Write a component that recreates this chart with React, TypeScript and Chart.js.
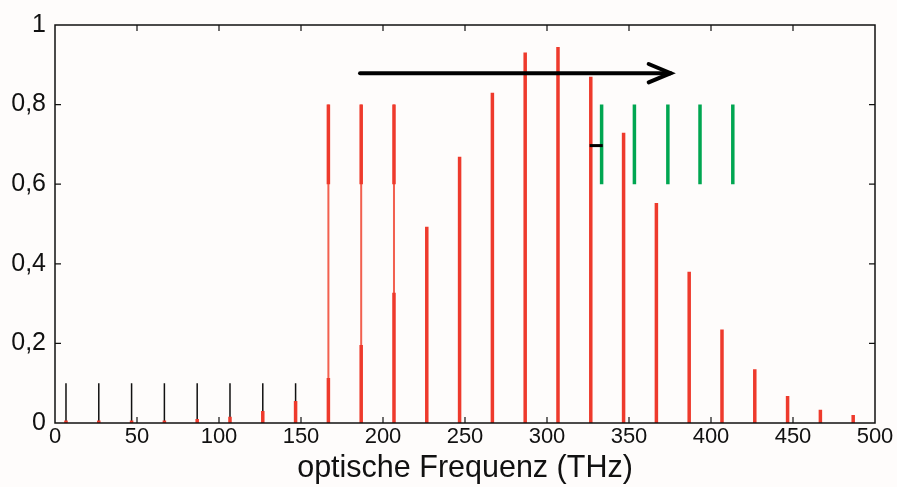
import React, { useEffect, useRef } from "react";
import { Chart, registerables } from "chart.js";

Chart.register(...registerables);

// comb line frequencies (THz)
const combFreqs = [6.7, 26.7, 46.7, 66.7, 86.7, 106.7, 126.7, 146.7, 166.7, 186.7, 206.7, 226.7, 246.7, 266.7, 286.7, 306.7, 326.7, 346.7, 366.7, 386.7, 406.7, 426.7, 446.7, 466.7, 486.7];
// red comb amplitudes
const redHeights = [0.006, 0.006, 0.006, 0.006, 0.01, 0.016, 0.03, 0.055, 0.113, 0.196, 0.327, 0.493, 0.669, 0.83, 0.931, 0.945, 0.87, 0.729, 0.553, 0.38, 0.235, 0.135, 0.068, 0.033, 0.02];
// black seed comb (low frequencies)
const blackFreqs = [6.7, 26.7, 46.7, 66.7, 86.7, 106.7, 126.7, 146.7];
const blackHeights = [0.1, 0.1, 0.1, 0.1, 0.1, 0.1, 0.1, 0.1];
// thin red lines up to 0.8 with thick top segments
const pumpFreqs = [166.7, 186.7, 206.7];
const pumpTop = [0.8, 0.8, 0.8];
const pumpSegLow = [0.6, 0.6, 0.6];
// green lines
const greenFreqs = [333.3, 353.3, 373.7, 393.3, 413.3];
const greenLow = [0.6, 0.6, 0.6, 0.6, 0.6];
const greenHigh = [0.8, 0.8, 0.8, 0.8, 0.8];
// black short dash
const dashX = [326, 334];
const dashY = [0.697, 0.697];
// arrow
const arrowX = [186, 375.4];
const arrowY = [0.879, 0.879];
const arrowHeadX = [362, 375.4, 362];
const arrowHeadY = [0.902, 0.879, 0.856];

const xTicks = [0, 50, 100, 150, 200, 250, 300, 350, 400, 450, 500];
const yTicks = [0, 0.2, 0.4, 0.6, 0.8, 1];

function segs(xs: number[], lows: number[], highs: number[]) {
  const out: any[] = [];
  xs.forEach((x, i) => {
    out.push({ x, y: lows[i] });
    out.push({ x, y: highs[i] });
    out.push({ x, y: null });
  });
  return out;
}

const FONT = "'Liberation Sans', Arial, Helvetica, sans-serif";

export default function App() {
  const ref = useRef<HTMLCanvasElement>(null);
  useEffect(() => {
    document.body.style.margin = "0";
    const zeros = (n: number) => new Array(n).fill(0);
    const framePlugin = {
      id: "frame",
      beforeDraw(chart: any) {
        const ctx = chart.ctx;
        ctx.save();
        ctx.fillStyle = "#fefcfb";
        ctx.fillRect(0, 0, chart.width, chart.height);
        ctx.restore();
      },
      afterDraw(chart: any) {
        const { ctx, chartArea: a, scales } = chart;
        ctx.save();
        ctx.strokeStyle = "#111";
        ctx.lineWidth = 1.5;
        ctx.strokeRect(a.left, a.top, a.right - a.left, a.bottom - a.top);
        ctx.lineWidth = 1.2;
        const tl = 6;
        ctx.beginPath();
        xTicks.forEach((v) => {
          if (v === 0 || v === 500) return;
          const px = scales.x.getPixelForValue(v);
          ctx.moveTo(px, a.bottom);
          ctx.lineTo(px, a.bottom - tl);
          ctx.moveTo(px, a.top);
          ctx.lineTo(px, a.top + tl);
        });
        yTicks.forEach((v) => {
          if (v === 0 || v === 1) return;
          const py = scales.y.getPixelForValue(v);
          ctx.moveTo(a.left, py);
          ctx.lineTo(a.left + tl, py);
          ctx.moveTo(a.right, py);
          ctx.lineTo(a.right - tl, py);
        });
        ctx.stroke();
        ctx.restore();
      },
    };
    const base = { showLine: true, pointRadius: 0, spanGaps: false, fill: false, tension: 0, borderCapStyle: "butt" };
    const chart = new Chart(ref.current!, {
      type: "scatter",
      data: {
        datasets: [
          { ...base, data: arrowX.map((x, i) => ({ x, y: arrowY[i] })), borderColor: "#000", borderWidth: 4, borderCapStyle: "round" },
          { ...base, data: arrowHeadX.map((x, i) => ({ x, y: arrowHeadY[i] })), borderColor: "#000", borderWidth: 4, borderCapStyle: "round", borderJoinStyle: "miter" },
          { ...base, data: dashX.map((x, i) => ({ x, y: dashY[i] })), borderColor: "#000", borderWidth: 3 },
          { ...base, data: segs(greenFreqs, greenLow, greenHigh), borderColor: "#00a651", borderWidth: 3.5 },
          { ...base, data: segs(pumpFreqs, pumpSegLow, pumpTop), borderColor: "#ee3a2c", borderWidth: 3.5 },
          { ...base, data: segs(combFreqs, zeros(combFreqs.length), redHeights), borderColor: "#ee3a2c", borderWidth: 3.5 },
          { ...base, data: segs(pumpFreqs, zeros(pumpFreqs.length), pumpTop), borderColor: "#f2604f", borderWidth: 2 },
          { ...base, data: segs(blackFreqs, zeros(blackFreqs.length), blackHeights), borderColor: "#111", borderWidth: 1.5 },
        ] as any,
      },
      options: {
        animation: false,
        responsive: false,
        events: [],
        layout: { padding: { top: 25, right: 22, left: 0, bottom: 0 } },
        plugins: { legend: { display: false }, tooltip: { enabled: false } },
        scales: {
          x: {
            type: "linear",
            min: 0,
            max: 500,
            afterBuildTicks: (s: any) => { s.ticks = xTicks.map((v) => ({ value: v })); },
            afterFit: (s: any) => { s.height = 64; },
            grid: { display: false, drawTicks: false },
            border: { display: false },
            ticks: { color: "#111", padding: 1, maxRotation: 0, autoSkip: false, font: { family: FONT, size: 22 } },
            title: { display: true, text: "optische Frequenz (THz)", color: "#111", padding: { top: 0, bottom: 0 }, font: { family: FONT, size: 30.5 } },
          },
          y: {
            type: "linear",
            min: 0,
            max: 1,
            afterBuildTicks: (s: any) => { s.ticks = yTicks.map((v) => ({ value: v })); },
            afterFit: (s: any) => { s.width = 55; },
            grid: { display: false, drawTicks: false },
            border: { display: false },
            ticks: {
              color: "#111",
              padding: 9,
              autoSkip: false,
              font: { family: FONT, size: 25 },
              callback: (v: any) => (v === 0 ? "0" : v === 1 ? "1" : Number(v).toFixed(1).replace(".", ",")),
            },
          },
        },
      },
      plugins: [framePlugin],
    } as any);
    return () => chart.destroy();
  }, []);
  return (
    <div style={{ position: "fixed", left: 0, top: 0, width: 897, height: 487 }}>
      <canvas ref={ref} width={897} height={487} />
    </div>
  );
}
